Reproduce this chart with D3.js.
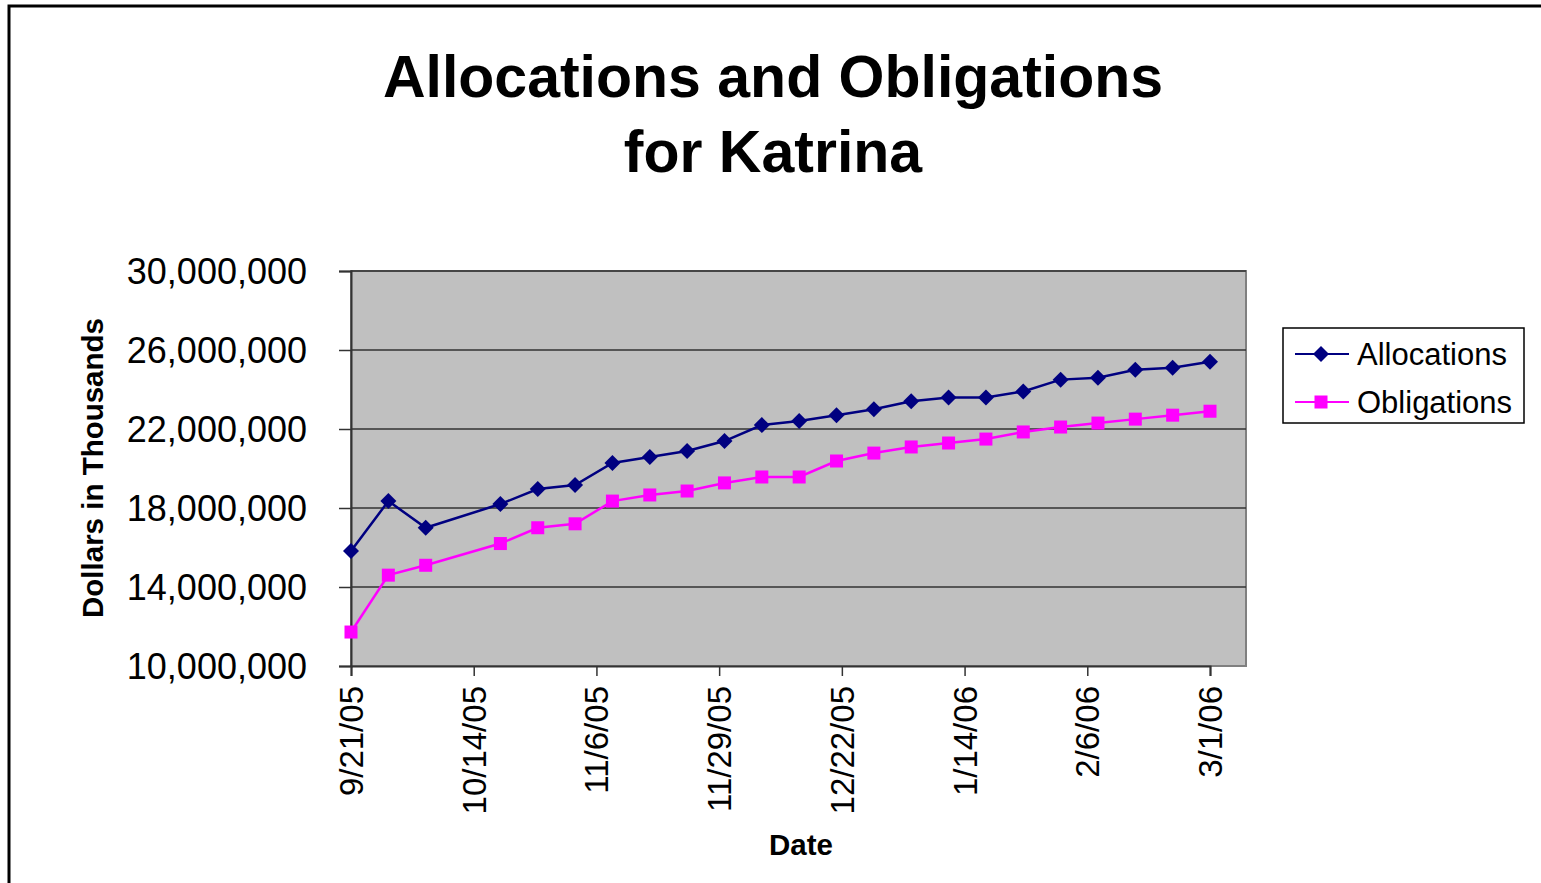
<!DOCTYPE html>
<html lang="en">
<head>
    <meta charset="UTF-8">
    <title>Allocations and Obligations for Katrina</title>
    <script src="https://d3js.org/d3.v7.min.js"></script>
    <style>
        body { margin: 0; background: #fff; font-family: "Liberation Sans", Arial, sans-serif; }
        svg { display: block; }
    </style>
</head>
<body>
    <svg id="chart" width="1541" height="883"></svg>

    <script>
        // weekly report dates (10/12/05 missing)
        const dates = ["9/21/05", "9/28/05", "10/5/05", "10/19/05", "10/26/05", "11/2/05", "11/9/05",
            "11/16/05", "11/23/05", "11/30/05", "12/7/05", "12/14/05", "12/21/05", "12/28/05",
            "1/4/06", "1/11/06", "1/18/06", "1/25/06", "2/1/06", "2/8/06", "2/15/06", "2/22/06", "3/1/06"];

        const allocations = [15820000, 18350000, 17000000, 18200000, 18960000, 19160000, 20280000,
            20580000, 20890000, 21390000, 22200000, 22400000, 22700000, 23000000,
            23400000, 23600000, 23600000, 23900000, 24500000, 24600000, 25000000, 25100000, 25400000];

        const obligations = [11720000, 14600000, 15100000, 16200000, 17000000, 17200000, 18350000,
            18660000, 18860000, 19270000, 19570000, 19570000, 20380000, 20780000,
            21090000, 21290000, 21490000, 21850000, 22100000, 22300000, 22500000, 22700000, 22900000];

        const tickDates = ["9/21/05", "10/14/05", "11/6/05", "11/29/05", "12/22/05", "1/14/06", "2/6/06", "3/1/06"];
        const yTicks = [10000000, 14000000, 18000000, 22000000, 26000000, 30000000];

        const parse = d3.timeParse("%m/%d/%y");
        const svg = d3.select("#chart");

        // outer frame
        svg.append("rect")
            .attr("x", 9).attr("y", 6)
            .attr("width", 1560).attr("height", 900)
            .attr("fill", "none").attr("stroke", "#000").attr("stroke-width", 3);

        // title
        const title = svg.append("text")
            .attr("text-anchor", "middle")
            .attr("font-weight", "bold")
            .attr("font-size", 59);
        title.append("tspan").attr("x", 773).attr("y", 97).text("Allocations and Obligations");
        title.append("tspan").attr("x", 773).attr("y", 172).text("for Katrina");

        const plotL = 351, plotR = 1246, plotT = 271, plotB = 666;

        const x = d3.scaleTime()
            .domain([parse("9/21/05"), parse("3/1/06")])
            .range([plotL, 1210]);

        const y = d3.scaleLinear()
            .domain([10000000, 30000000])
            .range([plotB, plotT]);

        // plot background
        svg.append("rect")
            .attr("x", plotL).attr("y", plotT)
            .attr("width", plotR - plotL).attr("height", plotB - plotT)
            .attr("fill", "#c0c0c0").attr("stroke", "#808080").attr("stroke-width", 2);

        // gridlines
        svg.append("g")
            .selectAll("line")
            .data(yTicks.slice(1))
            .join("line")
            .attr("x1", plotL).attr("x2", plotR)
            .attr("y1", d => y(d)).attr("y2", d => y(d))
            .attr("stroke", "#333").attr("stroke-width", 1.5);

        // y axis
        const yAxis = svg.append("g")
            .attr("transform", `translate(${plotL},0)`)
            .call(d3.axisLeft(y).tickValues(yTicks).tickSize(12).tickPadding(32).tickFormat(d3.format(",")));
        yAxis.select(".domain").attr("stroke", "#333").attr("stroke-width", 2);
        yAxis.selectAll(".tick line").attr("stroke", "#333").attr("stroke-width", 1.5);
        yAxis.selectAll("text")
            .attr("font-family", "Liberation Sans, Arial, sans-serif")
            .attr("font-size", 36).attr("fill", "#000").attr("dy", "0.35em");

        // x axis
        const xAxis = svg.append("g")
            .attr("transform", `translate(0,${plotB})`)
            .call(d3.axisBottom(x).tickValues(tickDates.map(parse)).tickSize(10).tickFormat(d3.timeFormat("%-m/%-d/%y")));
        xAxis.select(".domain").attr("stroke", "#333").attr("stroke-width", 2);
        xAxis.selectAll(".tick line").attr("stroke", "#333").attr("stroke-width", 1.5);
        xAxis.selectAll("text")
            .attr("font-family", "Liberation Sans, Arial, sans-serif")
            .attr("font-size", 33).attr("fill", "#000")
            .attr("transform", "rotate(-90)")
            .attr("text-anchor", "end")
            .attr("x", -20).attr("y", 0).attr("dy", "0.35em");

        // axis titles
        svg.append("text")
            .attr("transform", "translate(103,468) rotate(-90)")
            .attr("text-anchor", "middle")
            .attr("font-weight", "bold").attr("font-size", 29.5)
            .text("Dollars in Thousands");

        svg.append("text")
            .attr("x", 801).attr("y", 855)
            .attr("text-anchor", "middle")
            .attr("font-weight", "bold").attr("font-size", 29.5)
            .text("Date");

        const series = [
            { name: "Allocations", values: allocations, color: "#000080", shape: "diamond" },
            { name: "Obligations", values: obligations, color: "#ff00ff", shape: "square" }
        ];

        const line = d3.line()
            .x((d, i) => x(parse(dates[i])))
            .y(d => y(d));

        function marker(g, s, px, py) {
            if (s.shape === "diamond") {
                g.append("path")
                    .attr("d", `M${px},${py - 8}L${px + 8},${py}L${px},${py + 8}L${px - 8},${py}Z`)
                    .attr("fill", s.color);
            } else {
                g.append("rect")
                    .attr("x", px - 6.5).attr("y", py - 6.5)
                    .attr("width", 13).attr("height", 13)
                    .attr("fill", s.color);
            }
        }

        series.forEach(s => {
            const g = svg.append("g");
            g.append("path")
                .datum(s.values)
                .attr("d", line)
                .attr("fill", "none")
                .attr("stroke", s.color)
                .attr("stroke-width", 2.5);
            s.values.forEach((v, i) => marker(g, s, x(parse(dates[i])), y(v)));
        });

        // legend
        const legend = svg.append("g");
        legend.append("rect")
            .attr("x", 1283).attr("y", 328)
            .attr("width", 241).attr("height", 95)
            .attr("fill", "#fff").attr("stroke", "#000").attr("stroke-width", 1.5);

        series.forEach((s, i) => {
            const ly = 354 + i * 48;
            legend.append("line")
                .attr("x1", 1295).attr("x2", 1349)
                .attr("y1", ly).attr("y2", ly)
                .attr("stroke", s.color).attr("stroke-width", 2);
            marker(legend, s, 1321, ly);
            legend.append("text")
                .attr("x", 1357).attr("y", ly + 11)
                .attr("font-size", 31)
                .text(s.name);
        });
    </script>
</body>
</html>
